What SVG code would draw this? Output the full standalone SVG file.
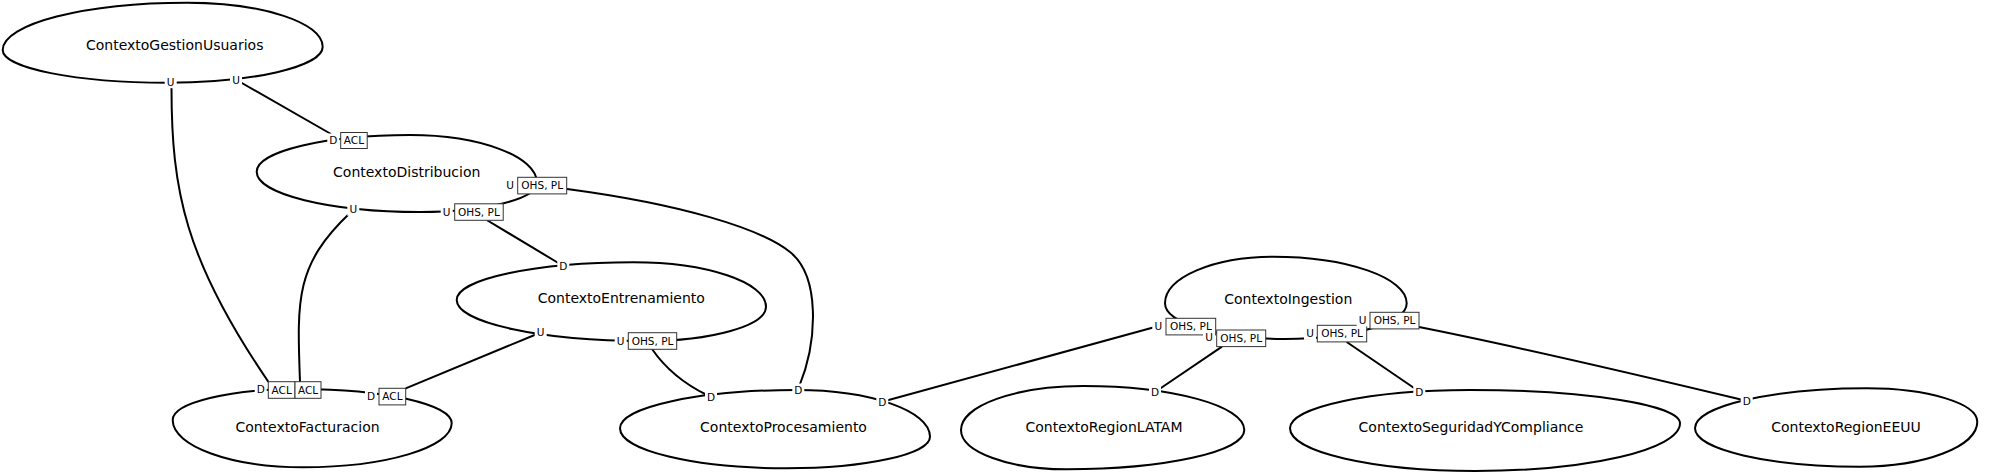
<svg xmlns="http://www.w3.org/2000/svg" width="2000" height="475" viewBox="0 0 2000 475">
<style>
.shape{fill:none;stroke:#000;stroke-width:2}
.name{font-family:"DejaVu Sans","Liberation Sans",sans-serif;font-size:14px;fill:#000;text-anchor:middle}
.edge{fill:none;stroke:#000;stroke-width:2}
.bg{fill:#fff;stroke:none}
.box{fill:#fff;stroke:#333;stroke-width:1}
.lbl{font-family:"DejaVu Sans","Liberation Sans",sans-serif;font-size:10.5px;fill:#000;text-anchor:middle}
</style>
<rect width="2000" height="475" fill="#fff"/>
<g id="ContextoGestionUsuarios">
<path class="shape" d="M2.7,50 C2.7,23.9 85.2,2.7 187,2.7 C261.9,2.7 322.7,22.4 322.7,46.7 C322.7,66.6 253,82.7 167,82.7 C76.3,82.7 2.7,68.1 2.7,50Z"/>
<text class="name" x="174.7" y="50">ContextoGestionUsuarios</text>
</g>
<g id="ContextoDistribucion">
<path class="shape" d="M256.7,171.7 C256.7,151.4 325.3,135 410,135 C480.1,135 537,156.5 537,183 C537,199 484.6,212 420,212 C329.8,212 256.7,194 256.7,171.7Z"/>
<text class="name" x="406.7" y="176.7">ContextoDistribucion</text>
</g>
<g id="ContextoEntrenamiento">
<path class="shape" d="M456.7,300 C456.7,279.2 535.8,262.3 633.3,262.3 C706.6,262.3 766,282.2 766,306.7 C766,325.6 711.8,341 645,341 C541,341 456.7,322.6 456.7,300Z"/>
<text class="name" x="621.3" y="303.3">ContextoEntrenamiento</text>
</g>
<g id="ContextoFacturacion">
<path class="shape" d="M172.7,420 C172.7,402.9 229.7,389 300,389 C383.8,389 451.7,404.4 451.7,423.3 C451.7,447.6 385.3,467.3 303.3,467.3 C231.2,467.3 172.7,446.1 172.7,420Z"/>
<text class="name" x="307.5" y="432.3">ContextoFacturacion</text>
</g>
<g id="ContextoProcesamiento">
<path class="shape" d="M620,428.3 C620,407.1 699.1,390 796.7,390 C870.3,390 930,410.9 930,436.7 C930,454.2 865.8,468.3 786.7,468.3 C694.6,468.3 620,450.4 620,428.3Z"/>
<text class="name" x="783.5" y="432.3">ContextoProcesamiento</text>
</g>
<g id="ContextoRegionLATAM">
<path class="shape" d="M961,430 C961,405.7 1015.6,386 1083,386 C1172.1,386 1244.3,405.7 1244.3,430 C1244.3,451.7 1164.8,469.3 1066.7,469.3 C1008.3,469.3 961,451.7 961,430Z"/>
<text class="name" x="1104" y="432.3">ContextoRegionLATAM</text>
</g>
<g id="ContextoIngestion">
<path class="shape" d="M1165,303.3 C1165,277.6 1213.4,256.7 1273,256.7 C1346.8,256.7 1406.7,277.6 1406.7,303.3 C1406.7,323 1352.2,339 1285,339 C1218.7,339 1165,323 1165,303.3Z"/>
<text class="name" x="1288.3" y="304">ContextoIngestion</text>
</g>
<g id="ContextoSeguridadYCompliance">
<path class="shape" d="M1290,428.3 C1290,407.1 1370.6,390 1470,390 C1586,390 1680,404.9 1680,423.3 C1680,449.6 1588.2,471 1475,471 C1372.8,471 1290,451.9 1290,428.3Z"/>
<text class="name" x="1471" y="432.3">ContextoSeguridadYCompliance</text>
</g>
<g id="ContextoRegionEEUU">
<path class="shape" d="M1695,428.3 C1695,406.2 1771.9,388.3 1866.7,388.3 C1927.8,388.3 1977.3,403.3 1977.3,421.7 C1977.3,446.6 1924.8,466.7 1860,466.7 C1768.9,466.7 1695,449.5 1695,428.3Z"/>
<text class="name" x="1846" y="432.3">ContextoRegionEEUU</text>
</g>
<g id="connectors">
<path class="edge" d="M171.5,88 C171.5,190 185,260 268.5,382"/>
<path class="edge" d="M241,82.5 L331,134"/>
<path class="edge" d="M350,213 C295,265 297,300 300,382"/>
<path class="edge" d="M486.7,220 L560,264"/>
<path class="edge" d="M567,189 C680,204 760,228 790,252 C820,276 818,340 799,387"/>
<path class="edge" d="M537,334 L405.7,388.3"/>
<path class="edge" d="M652,349 Q672,378 707,395"/>
<path class="edge" d="M1155,327 L885,401"/>
<path class="edge" d="M1222,346.7 L1158,390"/>
<path class="edge" d="M1346.7,342 L1417,390"/>
<path class="edge" d="M1419,327 Q1530,349 1743,400"/>
</g>
<g id="labels">
<rect class="bg" x="164.7" y="75.2" width="12" height="13"/><text class="lbl" x="170.7" y="85.5">U</text>
<rect class="bg" x="230" y="73.5" width="12" height="13"/><text class="lbl" x="236" y="83.8">U</text>
<rect class="bg" x="327.3" y="133.5" width="12" height="13"/><text class="lbl" x="333.3" y="143.8">D</text>
<rect class="box" x="340.7" y="132.5" width="26.5" height="16"/><text class="lbl" x="353.9" y="144.3">ACL</text>
<rect class="bg" x="347.3" y="202.8" width="12" height="13"/><text class="lbl" x="353.3" y="213.1">U</text>
<rect class="bg" x="440.7" y="205.2" width="12" height="13"/><text class="lbl" x="446.7" y="215.5">U</text>
<rect class="box" x="454.7" y="203.8" width="48.5" height="16.5"/><text class="lbl" x="478.9" y="215.8">OHS, PL</text>
<rect class="bg" x="504" y="178.5" width="12" height="13"/><text class="lbl" x="510" y="188.8">U</text>
<rect class="box" x="517.7" y="177.3" width="49" height="16.6"/><text class="lbl" x="542.2" y="189.4">OHS, PL</text>
<rect class="bg" x="557.3" y="259.2" width="12" height="13"/><text class="lbl" x="563.3" y="269.5">D</text>
<rect class="bg" x="534.7" y="325.8" width="12" height="13"/><text class="lbl" x="540.7" y="336.1">U</text>
<rect class="bg" x="614.7" y="334.2" width="12" height="13"/><text class="lbl" x="620.7" y="344.5">U</text>
<rect class="box" x="628.3" y="332.7" width="48.4" height="16.6"/><text class="lbl" x="652.5" y="344.8">OHS, PL</text>
<rect class="bg" x="254.7" y="382.5" width="12" height="13"/><text class="lbl" x="260.7" y="392.8">D</text>
<rect class="box" x="268.3" y="381.7" width="26.7" height="16.6"/><text class="lbl" x="281.7" y="393.8">ACL</text>
<rect class="box" x="295" y="381.7" width="26" height="16.6"/><text class="lbl" x="308" y="393.8">ACL</text>
<rect class="bg" x="365" y="389.2" width="12" height="13"/><text class="lbl" x="371" y="399.5">D</text>
<rect class="box" x="379" y="388.3" width="26.7" height="16.6"/><text class="lbl" x="392.4" y="400.4">ACL</text>
<rect class="bg" x="705" y="390.2" width="12" height="13"/><text class="lbl" x="711" y="400.5">D</text>
<rect class="bg" x="792.3" y="383.5" width="12" height="13"/><text class="lbl" x="798.3" y="393.8">D</text>
<rect class="bg" x="876.3" y="395.2" width="12" height="13"/><text class="lbl" x="882.3" y="405.5">D</text>
<rect class="bg" x="1152.3" y="319.5" width="12" height="13"/><text class="lbl" x="1158.3" y="329.8">U</text>
<rect class="box" x="1166" y="318.3" width="49.7" height="16.6"/><text class="lbl" x="1190.9" y="330.4">OHS, PL</text>
<rect class="bg" x="1203" y="330.8" width="12" height="13"/><text class="lbl" x="1209" y="341.1">U</text>
<rect class="box" x="1216.7" y="330" width="49" height="16.6"/><text class="lbl" x="1241.2" y="342.1">OHS, PL</text>
<rect class="bg" x="1304" y="326.8" width="12" height="13"/><text class="lbl" x="1310" y="337.1">U</text>
<rect class="box" x="1317.3" y="325.3" width="49.4" height="16.6"/><text class="lbl" x="1342" y="337.4">OHS, PL</text>
<rect class="bg" x="1356.7" y="313.5" width="12" height="13"/><text class="lbl" x="1362.7" y="323.8">U</text>
<rect class="box" x="1370" y="312.3" width="49" height="16.6"/><text class="lbl" x="1394.5" y="324.4">OHS, PL</text>
<rect class="bg" x="1149" y="385.2" width="12" height="13"/><text class="lbl" x="1155" y="395.5">D</text>
<rect class="bg" x="1413.3" y="385.8" width="12" height="13"/><text class="lbl" x="1419.3" y="396.1">D</text>
<rect class="bg" x="1740.7" y="394.2" width="12" height="13"/><text class="lbl" x="1746.7" y="404.5">D</text>
</g>
</svg>
